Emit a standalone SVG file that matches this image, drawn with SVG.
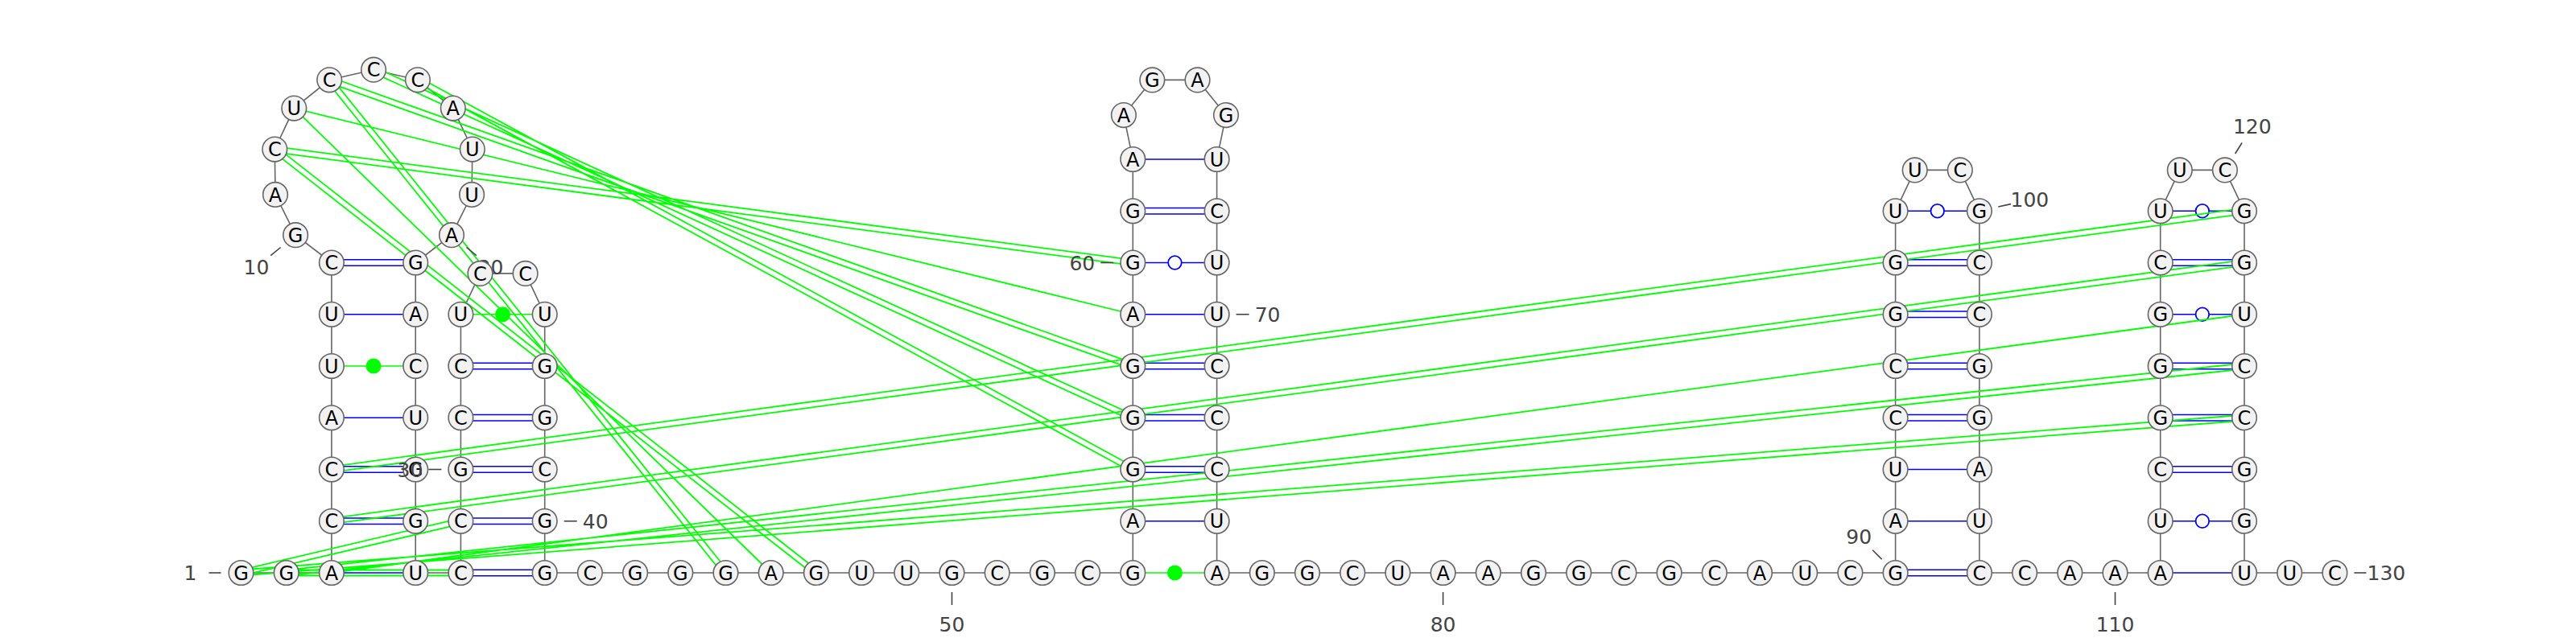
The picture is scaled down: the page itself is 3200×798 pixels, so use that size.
<svg xmlns="http://www.w3.org/2000/svg" width="3200" height="798" viewBox="0 0 3200 798">
<style>
.bb{fill:none;stroke:#666;stroke-width:1.6}
.bp{fill:none;stroke:#0000ff;stroke-width:1.7}
.nc{fill:none;stroke:#00ff00;stroke-width:1.7}
.tl{fill:none;stroke:#00ff00;stroke-width:1.8}
.wob{fill:#fff;stroke:#0000ff;stroke-width:1.8}
.dot{fill:#00ff00}
.n circle{fill:#f2f2f2;stroke:#666;stroke-width:1.6}
.n text{font-family:'DejaVu Sans',sans-serif;font-size:24px;text-anchor:middle;fill:#000}
.lbl line{stroke:#444;stroke-width:1.6}
.lbl text{font-family:'DejaVu Sans',sans-serif;font-size:25px;text-anchor:middle;fill:#444}
</style>
<rect width="3200" height="798" fill="#fff"/>
<g id="connectors">
<polyline class="bb" points="299.5,712 355.7,712 411.9,712 411.9,647.75 411.9,583.5 411.9,519.25 411.9,455 411.9,390.75 411.9,326.5 367.1,292.2 342,241.9 341.3,185.6 365.3,134.6 409.2,99.3 464.05,86.7 518.9,99.3 562.8,134.6 586.8,185.6 586.1,241.9 561,292.2 516.2,326.5 516.2,390.75 516.2,455 516.2,519.25 516.2,583.5 516.2,647.75 516.2,712 572.4,712 572.4,647.75 572.4,583.5 572.4,519.25 572.4,455 572.4,390.75 596.5,339.9 652.6,339.9 676.7,390.75 676.7,455 676.7,519.25 676.7,583.5 676.7,647.75 676.7,712 732.9,712 789.1,712 845.3,712 901.5,712 957.7,712 1013.9,712 1070.1,712 1126.3,712 1182.5,712 1238.7,712 1294.9,712 1351.1,712 1407.3,712 1407.3,647.75 1407.3,583.5 1407.3,519.25 1407.3,455 1407.3,390.75 1407.3,326.5 1407.3,262.25 1407.3,198 1395.9,143.1 1431.35,99.4 1487.55,99.4 1523,143.1 1511.6,198 1511.6,262.25 1511.6,326.5 1511.6,390.75 1511.6,455 1511.6,519.25 1511.6,583.5 1511.6,647.75 1511.6,712 1567.8,712 1624,712 1680.2,712 1736.4,712 1792.6,712 1848.8,712 1905,712 1961.2,712 2017.4,712 2073.6,712 2129.8,712 2186,712 2242.2,712 2298.4,712 2354.6,712 2354.6,647.75 2354.6,583.5 2354.6,519.25 2354.6,455 2354.6,390.75 2354.6,326.5 2354.6,262.25 2378.7,211.4 2434.8,211.4 2458.9,262.25 2458.9,326.5 2458.9,390.75 2458.9,455 2458.9,519.25 2458.9,583.5 2458.9,647.75 2458.9,712 2515.1,712 2571.3,712 2627.5,712 2683.7,712 2683.7,647.75 2683.7,583.5 2683.7,519.25 2683.7,455 2683.7,390.75 2683.7,326.5 2683.7,262.25 2707.8,211.4 2763.9,211.4 2788,262.25 2788,326.5 2788,390.75 2788,455 2788,519.25 2788,583.5 2788,647.75 2788,712 2844.2,712 2900.4,712"/>
<path class="bp" d="M411.9 712H516.2M411.9 644H516.2M411.9 651.5H516.2M411.9 579.75H516.2M411.9 587.25H516.2M411.9 519.25H516.2M411.9 390.75H516.2M411.9 322.75H516.2M411.9 330.25H516.2
M572.4 708.25H676.7M572.4 715.75H676.7M572.4 644H676.7M572.4 651.5H676.7M572.4 579.75H676.7M572.4 587.25H676.7M572.4 515.5H676.7M572.4 523H676.7M572.4 451.25H676.7M572.4 458.75H676.7
M1407.3 647.75H1511.6M1407.3 579.75H1511.6M1407.3 587.25H1511.6M1407.3 515.5H1511.6M1407.3 523H1511.6M1407.3 451.25H1511.6M1407.3 458.75H1511.6M1407.3 390.75H1511.6M1407.3 326.5H1511.6M1407.3 258.5H1511.6M1407.3 266H1511.6M1407.3 198H1511.6
M2354.6 708.25H2458.9M2354.6 715.75H2458.9M2354.6 647.75H2458.9M2354.6 583.5H2458.9M2354.6 515.5H2458.9M2354.6 523H2458.9M2354.6 451.25H2458.9M2354.6 458.75H2458.9M2354.6 387H2458.9M2354.6 394.5H2458.9M2354.6 322.75H2458.9M2354.6 330.25H2458.9M2354.6 262.25H2458.9
M2683.7 712H2788M2683.7 647.75H2788M2683.7 579.75H2788M2683.7 587.25H2788M2683.7 515.5H2788M2683.7 523H2788M2683.7 451.25H2788M2683.7 458.75H2788M2683.7 390.75H2788M2683.7 322.75H2788M2683.7 330.25H2788M2683.7 262.25H2788"/>
<circle class="wob" cx="1459.45" cy="326.5" r="8.3"/>
<circle class="wob" cx="2406.75" cy="262.25" r="8.3"/>
<circle class="wob" cx="2735.85" cy="647.75" r="8.3"/>
<circle class="wob" cx="2735.85" cy="390.75" r="8.3"/>
<circle class="wob" cx="2735.85" cy="262.25" r="8.3"/>
<path class="nc" d="M411.9 455H516.2M572.4 390.75H676.7M1407.3 712H1511.6"/>
<circle class="dot" cx="464.05" cy="455" r="9.5"/>
<circle class="dot" cx="624.55" cy="390.75" r="9.5"/>
<circle class="dot" cx="1459.45" cy="712" r="9.5"/>
<path class="tl" d="M300.3 715.41L573.2 651.16M298.7 708.59L571.6 644.34
M355.7 715.5L572.4 715.5M355.7 708.5L572.4 708.5
M299.77 715.49L2788.27 522.74M299.23 708.51L2787.73 515.76
M356.07 715.48L2788.37 458.48M355.33 708.52L2787.63 451.52
M411.9 712L2788 390.75
M412.37 651.22L2788.47 329.97M411.43 644.28L2787.53 323.03
M412.37 586.97L2788.47 265.72M411.43 580.03L2787.53 258.78
M340.84 189.07L1406.84 329.97M341.76 182.13L1407.76 323.03
M365.3 134.6L1407.3 390.75
M408.03 102.6L1406.13 458.3M410.38 96L1408.48 451.7
M462.59 89.88L1405.84 522.43M465.51 83.52L1408.76 516.07
M517.23 102.37L1405.63 586.57M520.58 96.23L1408.98 580.43
M339.14 188.36L1011.74 714.76M343.46 182.84L1016.06 709.24
M365.3 134.6L957.7 712
M406.47 101.49L898.77 714.19M411.93 97.11L904.23 709.81"/>
</g>
<g id="n1" class="n"><circle cx="299.5" cy="712" r="15.3"/><text x="299.5" y="720.7">G</text></g>
<g id="lbl1" class="lbl"><line x1="259.5" y1="712" x2="274.5" y2="712"/><text x="236.5" y="721">1</text></g>
<g id="n2" class="n"><circle cx="355.7" cy="712" r="15.3"/><text x="355.7" y="720.7">G</text></g>
<g id="n3" class="n"><circle cx="411.9" cy="712" r="15.3"/><text x="411.9" y="720.7">A</text></g>
<g id="n4" class="n"><circle cx="411.9" cy="647.75" r="15.3"/><text x="411.9" y="656.45">C</text></g>
<g id="n5" class="n"><circle cx="411.9" cy="583.5" r="15.3"/><text x="411.9" y="592.2">C</text></g>
<g id="n6" class="n"><circle cx="411.9" cy="519.25" r="15.3"/><text x="411.9" y="527.95">A</text></g>
<g id="n7" class="n"><circle cx="411.9" cy="455" r="15.3"/><text x="411.9" y="463.7">U</text></g>
<g id="n8" class="n"><circle cx="411.9" cy="390.75" r="15.3"/><text x="411.9" y="399.45">U</text></g>
<g id="n9" class="n"><circle cx="411.9" cy="326.5" r="15.3"/><text x="411.9" y="335.2">C</text></g>
<g id="n10" class="n"><circle cx="367.1" cy="292.2" r="15.3"/><text x="367.1" y="300.9">G</text></g>
<g id="lbl10" class="lbl"><line x1="348.6" y1="307.5" x2="336.2" y2="317.6"/><text x="318.5" y="341.3">10</text></g>
<g id="n11" class="n"><circle cx="342" cy="241.9" r="15.3"/><text x="342" y="250.6">A</text></g>
<g id="n12" class="n"><circle cx="341.3" cy="185.6" r="15.3"/><text x="341.3" y="194.3">C</text></g>
<g id="n13" class="n"><circle cx="365.3" cy="134.6" r="15.3"/><text x="365.3" y="143.3">U</text></g>
<g id="n14" class="n"><circle cx="409.2" cy="99.3" r="15.3"/><text x="409.2" y="108">C</text></g>
<g id="n15" class="n"><circle cx="464.05" cy="86.7" r="15.3"/><text x="464.05" y="95.4">C</text></g>
<g id="n16" class="n"><circle cx="518.9" cy="99.3" r="15.3"/><text x="518.9" y="108">C</text></g>
<g id="n17" class="n"><circle cx="562.8" cy="134.6" r="15.3"/><text x="562.8" y="143.3">A</text></g>
<g id="n18" class="n"><circle cx="586.8" cy="185.6" r="15.3"/><text x="586.8" y="194.3">U</text></g>
<g id="n19" class="n"><circle cx="586.1" cy="241.9" r="15.3"/><text x="586.1" y="250.6">U</text></g>
<g id="n20" class="n"><circle cx="561" cy="292.2" r="15.3"/><text x="561" y="300.9">A</text></g>
<g id="lbl20" class="lbl"><line x1="579.5" y1="307.5" x2="591.9" y2="317.6"/><text x="609.6" y="341.3">20</text></g>
<g id="n21" class="n"><circle cx="516.2" cy="326.5" r="15.3"/><text x="516.2" y="335.2">G</text></g>
<g id="n22" class="n"><circle cx="516.2" cy="390.75" r="15.3"/><text x="516.2" y="399.45">A</text></g>
<g id="n23" class="n"><circle cx="516.2" cy="455" r="15.3"/><text x="516.2" y="463.7">C</text></g>
<g id="n24" class="n"><circle cx="516.2" cy="519.25" r="15.3"/><text x="516.2" y="527.95">U</text></g>
<g id="n25" class="n"><circle cx="516.2" cy="583.5" r="15.3"/><text x="516.2" y="592.2">G</text></g>
<g id="n26" class="n"><circle cx="516.2" cy="647.75" r="15.3"/><text x="516.2" y="656.45">G</text></g>
<g id="n27" class="n"><circle cx="516.2" cy="712" r="15.3"/><text x="516.2" y="720.7">U</text></g>
<g id="n28" class="n"><circle cx="572.4" cy="712" r="15.3"/><text x="572.4" y="720.7">C</text></g>
<g id="n29" class="n"><circle cx="572.4" cy="647.75" r="15.3"/><text x="572.4" y="656.45">C</text></g>
<g id="n30" class="n"><circle cx="572.4" cy="583.5" r="15.3"/><text x="572.4" y="592.2">G</text></g>
<g id="lbl30" class="lbl"><line x1="548.4" y1="583.5" x2="532.4" y2="583.5"/><text x="509.4" y="592.5">30</text></g>
<g id="n31" class="n"><circle cx="572.4" cy="519.25" r="15.3"/><text x="572.4" y="527.95">C</text></g>
<g id="n32" class="n"><circle cx="572.4" cy="455" r="15.3"/><text x="572.4" y="463.7">C</text></g>
<g id="n33" class="n"><circle cx="572.4" cy="390.75" r="15.3"/><text x="572.4" y="399.45">U</text></g>
<g id="n34" class="n"><circle cx="596.5" cy="339.9" r="15.3"/><text x="596.5" y="348.6">C</text></g>
<g id="n35" class="n"><circle cx="652.6" cy="339.9" r="15.3"/><text x="652.6" y="348.6">C</text></g>
<g id="n36" class="n"><circle cx="676.7" cy="390.75" r="15.3"/><text x="676.7" y="399.45">U</text></g>
<g id="n37" class="n"><circle cx="676.7" cy="455" r="15.3"/><text x="676.7" y="463.7">G</text></g>
<g id="n38" class="n"><circle cx="676.7" cy="519.25" r="15.3"/><text x="676.7" y="527.95">G</text></g>
<g id="n39" class="n"><circle cx="676.7" cy="583.5" r="15.3"/><text x="676.7" y="592.2">C</text></g>
<g id="n40" class="n"><circle cx="676.7" cy="647.75" r="15.3"/><text x="676.7" y="656.45">G</text></g>
<g id="lbl40" class="lbl"><line x1="700.7" y1="647.75" x2="716.7" y2="647.75"/><text x="739.7" y="656.75">40</text></g>
<g id="n41" class="n"><circle cx="676.7" cy="712" r="15.3"/><text x="676.7" y="720.7">G</text></g>
<g id="n42" class="n"><circle cx="732.9" cy="712" r="15.3"/><text x="732.9" y="720.7">C</text></g>
<g id="n43" class="n"><circle cx="789.1" cy="712" r="15.3"/><text x="789.1" y="720.7">G</text></g>
<g id="n44" class="n"><circle cx="845.3" cy="712" r="15.3"/><text x="845.3" y="720.7">G</text></g>
<g id="n45" class="n"><circle cx="901.5" cy="712" r="15.3"/><text x="901.5" y="720.7">G</text></g>
<g id="n46" class="n"><circle cx="957.7" cy="712" r="15.3"/><text x="957.7" y="720.7">A</text></g>
<g id="n47" class="n"><circle cx="1013.9" cy="712" r="15.3"/><text x="1013.9" y="720.7">G</text></g>
<g id="n48" class="n"><circle cx="1070.1" cy="712" r="15.3"/><text x="1070.1" y="720.7">U</text></g>
<g id="n49" class="n"><circle cx="1126.3" cy="712" r="15.3"/><text x="1126.3" y="720.7">U</text></g>
<g id="n50" class="n"><circle cx="1182.5" cy="712" r="15.3"/><text x="1182.5" y="720.7">G</text></g>
<g id="lbl50" class="lbl"><line x1="1182.5" y1="736" x2="1182.5" y2="752"/><text x="1182.5" y="785">50</text></g>
<g id="n51" class="n"><circle cx="1238.7" cy="712" r="15.3"/><text x="1238.7" y="720.7">C</text></g>
<g id="n52" class="n"><circle cx="1294.9" cy="712" r="15.3"/><text x="1294.9" y="720.7">G</text></g>
<g id="n53" class="n"><circle cx="1351.1" cy="712" r="15.3"/><text x="1351.1" y="720.7">C</text></g>
<g id="n54" class="n"><circle cx="1407.3" cy="712" r="15.3"/><text x="1407.3" y="720.7">G</text></g>
<g id="n55" class="n"><circle cx="1407.3" cy="647.75" r="15.3"/><text x="1407.3" y="656.45">A</text></g>
<g id="n56" class="n"><circle cx="1407.3" cy="583.5" r="15.3"/><text x="1407.3" y="592.2">G</text></g>
<g id="n57" class="n"><circle cx="1407.3" cy="519.25" r="15.3"/><text x="1407.3" y="527.95">G</text></g>
<g id="n58" class="n"><circle cx="1407.3" cy="455" r="15.3"/><text x="1407.3" y="463.7">G</text></g>
<g id="n59" class="n"><circle cx="1407.3" cy="390.75" r="15.3"/><text x="1407.3" y="399.45">A</text></g>
<g id="n60" class="n"><circle cx="1407.3" cy="326.5" r="15.3"/><text x="1407.3" y="335.2">G</text></g>
<g id="lbl60" class="lbl"><line x1="1383.3" y1="326.5" x2="1367.3" y2="326.5"/><text x="1344.3" y="335.5">60</text></g>
<g id="n61" class="n"><circle cx="1407.3" cy="262.25" r="15.3"/><text x="1407.3" y="270.95">G</text></g>
<g id="n62" class="n"><circle cx="1407.3" cy="198" r="15.3"/><text x="1407.3" y="206.7">A</text></g>
<g id="n63" class="n"><circle cx="1395.9" cy="143.1" r="15.3"/><text x="1395.9" y="151.8">A</text></g>
<g id="n64" class="n"><circle cx="1431.35" cy="99.4" r="15.3"/><text x="1431.35" y="108.1">G</text></g>
<g id="n65" class="n"><circle cx="1487.55" cy="99.4" r="15.3"/><text x="1487.55" y="108.1">A</text></g>
<g id="n66" class="n"><circle cx="1523" cy="143.1" r="15.3"/><text x="1523" y="151.8">G</text></g>
<g id="n67" class="n"><circle cx="1511.6" cy="198" r="15.3"/><text x="1511.6" y="206.7">U</text></g>
<g id="n68" class="n"><circle cx="1511.6" cy="262.25" r="15.3"/><text x="1511.6" y="270.95">C</text></g>
<g id="n69" class="n"><circle cx="1511.6" cy="326.5" r="15.3"/><text x="1511.6" y="335.2">U</text></g>
<g id="n70" class="n"><circle cx="1511.6" cy="390.75" r="15.3"/><text x="1511.6" y="399.45">U</text></g>
<g id="lbl70" class="lbl"><line x1="1535.6" y1="390.75" x2="1551.6" y2="390.75"/><text x="1574.6" y="399.75">70</text></g>
<g id="n71" class="n"><circle cx="1511.6" cy="455" r="15.3"/><text x="1511.6" y="463.7">C</text></g>
<g id="n72" class="n"><circle cx="1511.6" cy="519.25" r="15.3"/><text x="1511.6" y="527.95">C</text></g>
<g id="n73" class="n"><circle cx="1511.6" cy="583.5" r="15.3"/><text x="1511.6" y="592.2">C</text></g>
<g id="n74" class="n"><circle cx="1511.6" cy="647.75" r="15.3"/><text x="1511.6" y="656.45">U</text></g>
<g id="n75" class="n"><circle cx="1511.6" cy="712" r="15.3"/><text x="1511.6" y="720.7">A</text></g>
<g id="n76" class="n"><circle cx="1567.8" cy="712" r="15.3"/><text x="1567.8" y="720.7">G</text></g>
<g id="n77" class="n"><circle cx="1624" cy="712" r="15.3"/><text x="1624" y="720.7">G</text></g>
<g id="n78" class="n"><circle cx="1680.2" cy="712" r="15.3"/><text x="1680.2" y="720.7">C</text></g>
<g id="n79" class="n"><circle cx="1736.4" cy="712" r="15.3"/><text x="1736.4" y="720.7">U</text></g>
<g id="n80" class="n"><circle cx="1792.6" cy="712" r="15.3"/><text x="1792.6" y="720.7">A</text></g>
<g id="lbl80" class="lbl"><line x1="1792.6" y1="736" x2="1792.6" y2="752"/><text x="1792.6" y="785">80</text></g>
<g id="n81" class="n"><circle cx="1848.8" cy="712" r="15.3"/><text x="1848.8" y="720.7">A</text></g>
<g id="n82" class="n"><circle cx="1905" cy="712" r="15.3"/><text x="1905" y="720.7">G</text></g>
<g id="n83" class="n"><circle cx="1961.2" cy="712" r="15.3"/><text x="1961.2" y="720.7">G</text></g>
<g id="n84" class="n"><circle cx="2017.4" cy="712" r="15.3"/><text x="2017.4" y="720.7">C</text></g>
<g id="n85" class="n"><circle cx="2073.6" cy="712" r="15.3"/><text x="2073.6" y="720.7">G</text></g>
<g id="n86" class="n"><circle cx="2129.8" cy="712" r="15.3"/><text x="2129.8" y="720.7">C</text></g>
<g id="n87" class="n"><circle cx="2186" cy="712" r="15.3"/><text x="2186" y="720.7">A</text></g>
<g id="n88" class="n"><circle cx="2242.2" cy="712" r="15.3"/><text x="2242.2" y="720.7">U</text></g>
<g id="n89" class="n"><circle cx="2298.4" cy="712" r="15.3"/><text x="2298.4" y="720.7">C</text></g>
<g id="n90" class="n"><circle cx="2354.6" cy="712" r="15.3"/><text x="2354.6" y="720.7">G</text></g>
<g id="lbl90" class="lbl"><line x1="2337.6" y1="695.1" x2="2326.2" y2="683.8"/><text x="2309.2" y="675.9">90</text></g>
<g id="n91" class="n"><circle cx="2354.6" cy="647.75" r="15.3"/><text x="2354.6" y="656.45">A</text></g>
<g id="n92" class="n"><circle cx="2354.6" cy="583.5" r="15.3"/><text x="2354.6" y="592.2">U</text></g>
<g id="n93" class="n"><circle cx="2354.6" cy="519.25" r="15.3"/><text x="2354.6" y="527.95">C</text></g>
<g id="n94" class="n"><circle cx="2354.6" cy="455" r="15.3"/><text x="2354.6" y="463.7">C</text></g>
<g id="n95" class="n"><circle cx="2354.6" cy="390.75" r="15.3"/><text x="2354.6" y="399.45">G</text></g>
<g id="n96" class="n"><circle cx="2354.6" cy="326.5" r="15.3"/><text x="2354.6" y="335.2">G</text></g>
<g id="n97" class="n"><circle cx="2354.6" cy="262.25" r="15.3"/><text x="2354.6" y="270.95">U</text></g>
<g id="n98" class="n"><circle cx="2378.7" cy="211.4" r="15.3"/><text x="2378.7" y="220.1">U</text></g>
<g id="n99" class="n"><circle cx="2434.8" cy="211.4" r="15.3"/><text x="2434.8" y="220.1">C</text></g>
<g id="n100" class="n"><circle cx="2458.9" cy="262.25" r="15.3"/><text x="2458.9" y="270.95">G</text></g>
<g id="lbl100" class="lbl"><line x1="2482.3" y1="257" x2="2497.9" y2="253.6"/><text x="2521.4" y="257.4">100</text></g>
<g id="n101" class="n"><circle cx="2458.9" cy="326.5" r="15.3"/><text x="2458.9" y="335.2">C</text></g>
<g id="n102" class="n"><circle cx="2458.9" cy="390.75" r="15.3"/><text x="2458.9" y="399.45">C</text></g>
<g id="n103" class="n"><circle cx="2458.9" cy="455" r="15.3"/><text x="2458.9" y="463.7">G</text></g>
<g id="n104" class="n"><circle cx="2458.9" cy="519.25" r="15.3"/><text x="2458.9" y="527.95">G</text></g>
<g id="n105" class="n"><circle cx="2458.9" cy="583.5" r="15.3"/><text x="2458.9" y="592.2">A</text></g>
<g id="n106" class="n"><circle cx="2458.9" cy="647.75" r="15.3"/><text x="2458.9" y="656.45">U</text></g>
<g id="n107" class="n"><circle cx="2458.9" cy="712" r="15.3"/><text x="2458.9" y="720.7">C</text></g>
<g id="n108" class="n"><circle cx="2515.1" cy="712" r="15.3"/><text x="2515.1" y="720.7">C</text></g>
<g id="n109" class="n"><circle cx="2571.3" cy="712" r="15.3"/><text x="2571.3" y="720.7">A</text></g>
<g id="n110" class="n"><circle cx="2627.5" cy="712" r="15.3"/><text x="2627.5" y="720.7">A</text></g>
<g id="lbl110" class="lbl"><line x1="2627.5" y1="736" x2="2627.5" y2="752"/><text x="2627.5" y="785">110</text></g>
<g id="n111" class="n"><circle cx="2683.7" cy="712" r="15.3"/><text x="2683.7" y="720.7">A</text></g>
<g id="n112" class="n"><circle cx="2683.7" cy="647.75" r="15.3"/><text x="2683.7" y="656.45">U</text></g>
<g id="n113" class="n"><circle cx="2683.7" cy="583.5" r="15.3"/><text x="2683.7" y="592.2">C</text></g>
<g id="n114" class="n"><circle cx="2683.7" cy="519.25" r="15.3"/><text x="2683.7" y="527.95">G</text></g>
<g id="n115" class="n"><circle cx="2683.7" cy="455" r="15.3"/><text x="2683.7" y="463.7">G</text></g>
<g id="n116" class="n"><circle cx="2683.7" cy="390.75" r="15.3"/><text x="2683.7" y="399.45">G</text></g>
<g id="n117" class="n"><circle cx="2683.7" cy="326.5" r="15.3"/><text x="2683.7" y="335.2">C</text></g>
<g id="n118" class="n"><circle cx="2683.7" cy="262.25" r="15.3"/><text x="2683.7" y="270.95">U</text></g>
<g id="n119" class="n"><circle cx="2707.8" cy="211.4" r="15.3"/><text x="2707.8" y="220.1">U</text></g>
<g id="n120" class="n"><circle cx="2763.9" cy="211.4" r="15.3"/><text x="2763.9" y="220.1">C</text></g>
<g id="lbl120" class="lbl"><line x1="2776.6" y1="191" x2="2785.1" y2="177.5"/><text x="2797.8" y="166.1">120</text></g>
<g id="n121" class="n"><circle cx="2788" cy="262.25" r="15.3"/><text x="2788" y="270.95">G</text></g>
<g id="n122" class="n"><circle cx="2788" cy="326.5" r="15.3"/><text x="2788" y="335.2">G</text></g>
<g id="n123" class="n"><circle cx="2788" cy="390.75" r="15.3"/><text x="2788" y="399.45">U</text></g>
<g id="n124" class="n"><circle cx="2788" cy="455" r="15.3"/><text x="2788" y="463.7">C</text></g>
<g id="n125" class="n"><circle cx="2788" cy="519.25" r="15.3"/><text x="2788" y="527.95">C</text></g>
<g id="n126" class="n"><circle cx="2788" cy="583.5" r="15.3"/><text x="2788" y="592.2">G</text></g>
<g id="n127" class="n"><circle cx="2788" cy="647.75" r="15.3"/><text x="2788" y="656.45">G</text></g>
<g id="n128" class="n"><circle cx="2788" cy="712" r="15.3"/><text x="2788" y="720.7">U</text></g>
<g id="n129" class="n"><circle cx="2844.2" cy="712" r="15.3"/><text x="2844.2" y="720.7">U</text></g>
<g id="n130" class="n"><circle cx="2900.4" cy="712" r="15.3"/><text x="2900.4" y="720.7">C</text></g>
<g id="lbl130" class="lbl"><line x1="2924.4" y1="712" x2="2939.4" y2="712"/><text x="2964.4" y="721">130</text></g>
</svg>
